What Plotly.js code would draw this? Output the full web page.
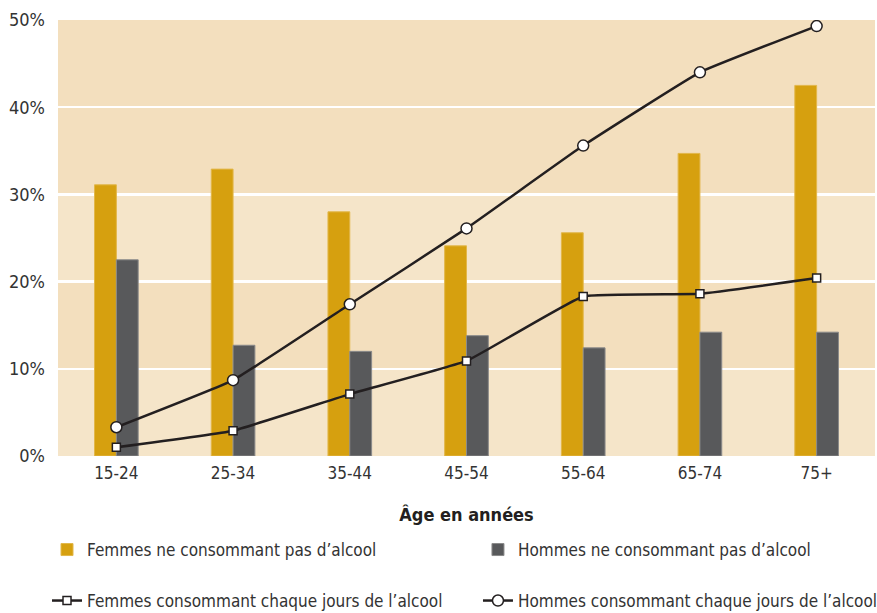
<!DOCTYPE html>
<html>
<head>
<meta charset="utf-8">
<script src="https://cdn.plot.ly/plotly-3.0.1.min.js"></script>
<style>html,body{margin:0;padding:0;background:#fff;}#chart{width:877px;height:613px;}</style>
</head>
<body>
<div id="chart"></div>
<script>
const categories = ["15-24", "25-34", "35-44", "45-54", "55-64", "65-74", "75+"];
const femmesSansAlcool = [31.1, 32.9, 28.0, 24.1, 25.6, 34.7, 42.5];
const hommesSansAlcool = [22.5, 12.7, 12.0, 13.8, 12.4, 14.2, 14.2];
const femmesQuotidien = [1.0, 2.9, 7.1, 10.9, 18.3, 18.6, 20.4];
const hommesQuotidien = [3.3, 8.7, 17.4, 26.1, 35.6, 44.0, 49.3];
const yTicks = [0, 10, 20, 30, 40, 50];
const seriesNames = [
  "Femmes ne consommant pas d’alcool",
  "Hommes ne consommant pas d’alcool",
  "Femmes consommant chaque jours de l’alcool",
  "Hommes consommant chaque jours de l’alcool"
];
const xTitle = "Âge en années";

const FONT = "'Liberation Sans Narrow', 'DejaVu Sans Condensed', 'Roboto', sans-serif";
const lineColor = "#231f20";

const traces = [
  {
    type: "bar", x: categories, y: femmesSansAlcool, name: seriesNames[0],
    marker: {color: "#d6a00f", line: {color: "#e2b74a", width: 1}},
    legend: "legend", hoverinfo: "skip"
  },
  {
    type: "bar", x: categories, y: hommesSansAlcool, name: seriesNames[1],
    marker: {color: "#58595b", line: {color: "#8a8a8a", width: 1}},
    legend: "legend2", hoverinfo: "skip"
  },
  {
    type: "scatter", mode: "lines+markers", x: categories, y: femmesQuotidien, name: seriesNames[2],
    line: {color: lineColor, width: 2.5, shape: "spline", smoothing: 0.3},
    marker: {symbol: "square", size: 8, color: "#ffffff", line: {color: lineColor, width: 1.5}},
    legend: "legend3", hoverinfo: "skip"
  },
  {
    type: "scatter", mode: "lines+markers", x: categories, y: hommesQuotidien, name: seriesNames[3],
    line: {color: lineColor, width: 2.5, shape: "spline", smoothing: 0.3},
    marker: {symbol: "circle", size: 11, color: "#ffffff", line: {color: lineColor, width: 1.5}},
    legend: "legend4", hoverinfo: "skip"
  }
];

const lightBand = "#f5e5c9";
const shapes = [[0, 10], [20, 30]].map(b => ({
  type: "rect", xref: "paper", yref: "y", x0: 0, x1: 1, y0: b[0], y1: b[1],
  fillcolor: lightBand, line: {width: 0}, layer: "below"
}));

function leg(x, y) {
  return {
    orientation: "h", xref: "container", yref: "container",
    x: x, y: y, xanchor: "left", yanchor: "middle",
    font: {family: FONT, size: 17, color: "#333333"},
    bgcolor: "rgba(0,0,0,0)", itemclick: false, itemdoubleclick: false
  };
}

const layout = {
  width: 877, height: 613,
  margin: {l: 58, r: 2, t: 20, b: 157},
  paper_bgcolor: "#ffffff",
  plot_bgcolor: "#f3dfbe",
  font: {family: FONT, size: 17, color: "#3a3a3a"},
  barmode: "group",
  bargap: 0.626,
  bargroupgap: 0,
  showlegend: true,
  shapes: shapes,
  xaxis: {
    type: "category",
    range: [-0.5, 6.5],
    showgrid: false, zeroline: false, showline: false,
    ticks: "", tickfont: {family: FONT, size: 17, color: "#333333"},
    ticklabelstandoff: 5,
    title: {text: "<b>" + xTitle + "</b>", font: {family: FONT, size: 18, color: "#231f20"}, standoff: 26},
    fixedrange: true
  },
  yaxis: {
    range: [0, 50],
    tickvals: yTicks,
    ticktext: yTicks.map(v => v + "%"),
    showgrid: true, gridcolor: "#ffffff", gridwidth: 2.5,
    zeroline: false, showline: false, ticks: "",
    tickfont: {family: FONT, size: 18, color: "#333333"},
    ticklabelstandoff: 12,
    fixedrange: true
  },
  legend: leg(0.0536, 0.1028),
  legend2: leg(0.545, 0.1028),
  legend3: leg(0.0536, 0.0196),
  legend4: leg(0.545, 0.0196)
};

Plotly.newPlot("chart", traces, layout, {displayModeBar: false, staticPlot: true});
</script>
</body>
</html>
